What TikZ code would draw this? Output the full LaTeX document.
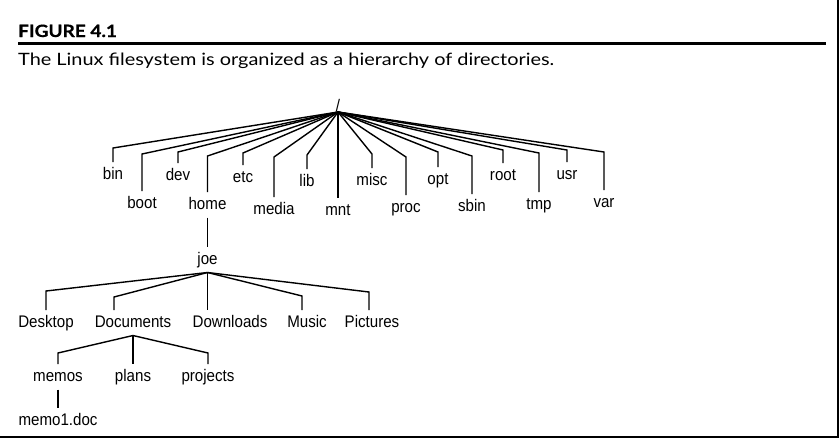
\documentclass[tikz,border=0pt]{standalone}
\usepackage{fontspec}
\newfontfamily\treefont{Liberation Sans}[FakeStretch=0.9]
\newfontfamily\headfont{Lato}[FakeStretch=1.17]
\newfontfamily\figfont{Lato}[FakeStretch=1.12, FakeBold=0.6]

\begin{document}
\begin{tikzpicture}[x=1pt, y=-1pt,
    dir/.style={font=\treefont\fontsize{16.8}{18}\selectfont, inner sep=0pt,
        outer sep=5pt, text height=12pt, text depth=3.5pt, anchor=north},
    branch/.style={line width=1.4pt, line join=miter}]
    \useasboundingbox (0,0) rectangle (840,440);

    % HEADER: figure number, rule and caption
    \node[anchor=base west, inner sep=0pt, font=\figfont\bfseries\fontsize{17}{20}\selectfont]
        (figno) at (18,37) {FIGURE 4.1};
    \draw[line width=3pt] (18,43) -- (826,43);
    \node[anchor=base west, inner sep=0pt, font=\headfont\fontsize{17}{20}\selectfont]
        (caption) at (18,65) {The Linux filesystem is organized as a hierarchy of directories.};

    % Frame (right and bottom edge)
    \draw[line width=1.3pt] (0,437) -- (838,437) -- (838,0);

    % ROOT
    \node[font=\treefont\fontsize{16.8}{18}\selectfont, inner sep=0pt, anchor=south]
        (slash) at (338,112) {/};

    % First level: name / x / corner y / label top
    \foreach \n/\x/\yc/\yb in {bin/113/148/162, boot/142/154/191, dev/178/152/163,
        home/207.5/156/192, etc/243/153/165, media/274/157/197, lib/307/155/169,
        mnt/338/112/198, misc/372/154/168, proc/406/157/195, opt/438/152/167,
        sbin/472/156/194, root/503/150/163, tmp/539/153/192, usr/567/150/162,
        var/604/152/190} {
        \node[dir] (d-\n) at (\x,\yb) {\n};
        \draw[branch] (slash.south) -- (\x,\yc) -- (d-\n.north);
    }

    % home -> joe
    \node[dir] (joe) at (207.5,247) {joe};
    \draw[branch] (d-home.south) -- (joe.north);

    % joe's folders: name / line x / label x / corner y
    \foreach \n/\x/\lx/\yc in {Desktop/46/46/291, Documents/114/133/297,
        Downloads/207.5/230/272, Music/302/307/296, Pictures/369/372/292} {
        \node[dir] (d-\n) at (\lx,310) {\n};
        \draw[branch] (joe.south) -- (\x,\yc) -- (\x,0 |- d-\n.north);
    }

    % Documents' folders
    \foreach \n/\x/\yc in {memos/58/353, plans/133/335, projects/208/353} {
        \node[dir] (d-\n) at (\x,364) {\n};
        \draw[branch] (d-Documents.south) -- (\x,\yc) -- (d-\n.north);
    }

    % memos -> memo1.doc
    \node[dir] (memo1) at (58,408) {memo1.doc};
    \draw[branch] (d-memos.south) -- (memo1.north);
\end{tikzpicture}
\end{document}
